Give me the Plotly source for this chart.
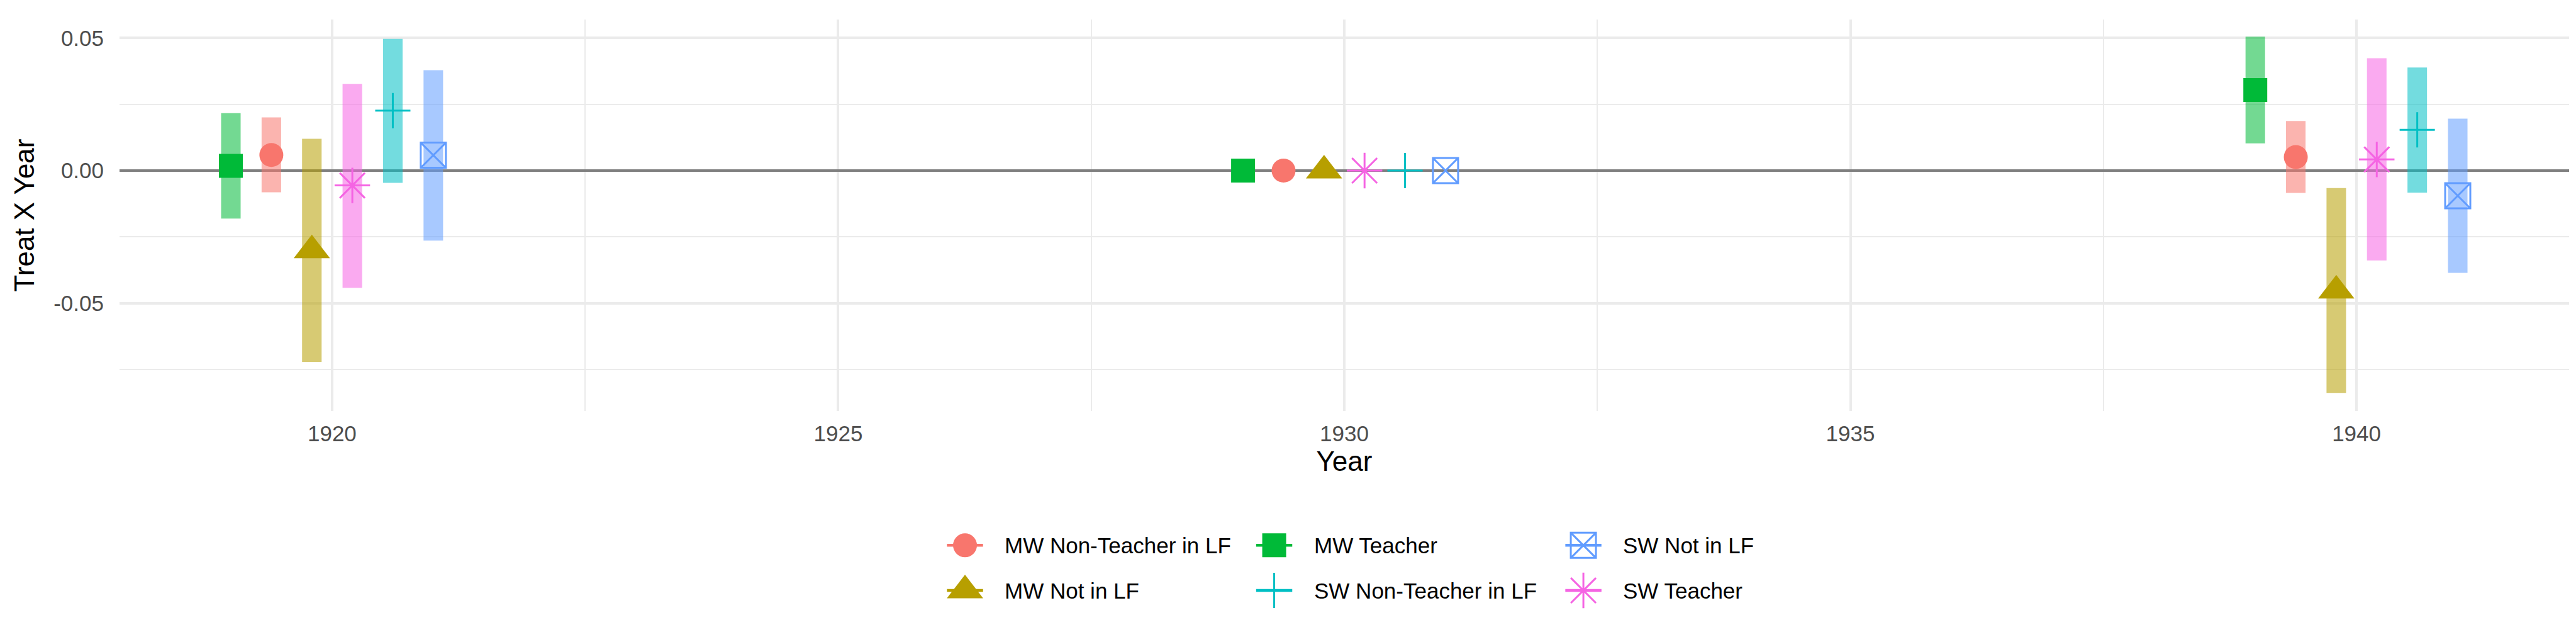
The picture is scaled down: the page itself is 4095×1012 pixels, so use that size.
import plotly.graph_objects as go

# ---------------- data ----------------
series_names = ["MW Non-Teacher in LF", "MW Not in LF", "MW Teacher",
                "SW Non-Teacher in LF", "SW Not in LF", "SW Teacher"]
years = [1920, 1930, 1940]

# point estimates and interval bounds, series order as in series_names
est_1920 = [0.0059, -0.0301, 0.0018, 0.0226, 0.0058, -0.0056]
lo_1920 = [-0.0082, -0.0722, -0.0181, -0.0046, -0.0264, -0.0442]
hi_1920 = [0.0201, 0.0120, 0.0217, 0.0497, 0.0379, 0.0327]

est_1930 = [0.0, 0.0, 0.0, 0.0, 0.0, 0.0]
lo_1930 = [0.0, 0.0, 0.0, 0.0, 0.0, 0.0]
hi_1930 = [0.0, 0.0, 0.0, 0.0, 0.0, 0.0]

est_1940 = [0.0051, -0.0453, 0.0304, 0.0154, -0.0095, 0.0042]
lo_1940 = [-0.0084, -0.0839, 0.0103, -0.0083, -0.0386, -0.0339]
hi_1940 = [0.0187, -0.0066, 0.0505, 0.0389, 0.0196, 0.0424]

y_tick_vals = [-0.05, 0.0, 0.05]
y_tick_text = ["-0.05", "0.00", "0.05"]
x_tick_vals = [1920, 1925, 1930, 1935, 1940]

# ---------------- style ----------------
colors = ["#F8766D", "#B79F00", "#00BA38", "#00BFC4", "#619CFF", "#F564E3"]
symbols = ["circle", "triangle-up", "square", "cross-thin-open", "square-x-open", "asterisk-open"]
sizes = [38, 50, 38, 40, 40, 47]
dodge_order = ["MW Teacher", "MW Non-Teacher in LF", "MW Not in LF",
               "SW Teacher", "SW Non-Teacher in LF", "SW Not in LF"]
DODGE_STEP = 0.4
BAR_WIDTH = 0.193
BAR_ALPHA = 0.55
FONT = "Liberation Sans, Arial, Helvetica, sans-serif"
LEGEND_ROWS = 2
LEGEND_KEY_HALF = 0.0584   # half-length of the key line, in legend-axis units
LEGEND_TEXT_SHIFT = 61     # px from key centre to label start

est_all = [est_1920, est_1930, est_1940]
lo_all = [lo_1920, lo_1930, lo_1940]
hi_all = [hi_1920, hi_1930, hi_1940]


def dodge(name):
    return (dodge_order.index(name) - (len(dodge_order) - 1) / 2) * DODGE_STEP


fig = go.Figure()

# interval bars (thick translucent ranges)
for i, name in enumerate(series_names):
    xs = [yr + dodge(name) for yr in years]
    lo = [l[i] for l in lo_all]
    hi = [h[i] for h in hi_all]
    fig.add_trace(go.Bar(
        x=xs, base=lo, y=[h - l for h, l in zip(hi, lo)], width=BAR_WIDTH,
        marker=dict(color=colors[i], opacity=BAR_ALPHA, line=dict(width=0)),
        showlegend=False, hoverinfo="skip", name=name))

# point estimates
for i, name in enumerate(series_names):
    xs = [yr + dodge(name) for yr in years]
    est = [e[i] for e in est_all]
    is_open = symbols[i].endswith("open")
    fig.add_trace(go.Scatter(
        x=xs, y=est, mode="markers", name=name, showlegend=False,
        marker=dict(symbol=symbols[i], size=sizes[i], color=colors[i],
                    line=dict(color=colors[i], width=3 if is_open else 0))))

# legend keys drawn on their own (hidden) axes, laid out column-major
for i, name in enumerate(series_names):
    col, row = i // LEGEND_ROWS, i % LEGEND_ROWS
    is_open = symbols[i].endswith("open")
    fig.add_trace(go.Scatter(
        x=[col], y=[row], xaxis="x2", yaxis="y2", mode="markers",
        name=name, showlegend=False, hoverinfo="skip",
        error_x=dict(type="data", array=[LEGEND_KEY_HALF], symmetric=True,
                     thickness=4.5, width=0, color=colors[i]),
        marker=dict(symbol=symbols[i], size=sizes[i], color=colors[i],
                    line=dict(color=colors[i], width=3 if is_open else 0))))
    fig.add_annotation(
        x=col, y=row, xref="x2", yref="y2", text=name, showarrow=False,
        xanchor="left", yanchor="middle", xshift=LEGEND_TEXT_SHIFT,
        font=dict(size=35, color="black", family=FONT))

grid = "#EBEBEB"
fig.update_layout(
    width=4095, height=1012,
    margin=dict(l=182, r=19, t=23, b=20),
    plot_bgcolor="white", paper_bgcolor="white",
    barmode="overlay", showlegend=False,
    font=dict(family=FONT, size=35, color="black"),
    xaxis=dict(
        domain=[0, 1], anchor="y",
        range=[1917.9, 1942.1], tickmode="array", tickvals=x_tick_vals,
        showgrid=True, gridcolor=grid, gridwidth=3.5,
        zeroline=False, showline=False, ticks="",
        ticklabelstandoff=12,
        tickfont=dict(size=35, color="#4D4D4D", family=FONT),
        minor=dict(tickmode="linear", tick0=1920, dtick=2.5, showgrid=True,
                   gridcolor=grid, gridwidth=1.8),
        title=dict(text="Year", font=dict(size=44, color="black", family=FONT), standoff=7),
    ),
    yaxis=dict(
        domain=[0.3581, 1], anchor="x",
        range=[-0.0907, 0.0570], tickmode="array", tickvals=y_tick_vals, ticktext=y_tick_text,
        showgrid=True, gridcolor=grid, gridwidth=3.5,
        zeroline=True, zerolinecolor="#7F7F7F", zerolinewidth=3.5,
        showline=False, ticks="",
        ticklabelstandoff=24,
        tickfont=dict(size=35, color="#4D4D4D", family=FONT),
        minor=dict(tickmode="linear", tick0=0, dtick=0.025, showgrid=True,
                   gridcolor=grid, gridwidth=1.8),
        title=dict(text="Treat X Year", font=dict(size=44, color="black", family=FONT), standoff=16),
    ),
    xaxis2=dict(domain=[0, 1], anchor="y2", range=[-2.7345, 5.188], visible=False, fixedrange=True),
    yaxis2=dict(domain=[0, 0.30], anchor="x2", range=[1.864, -2.190], visible=False, fixedrange=True),
)

fig.write_html("out.html")
